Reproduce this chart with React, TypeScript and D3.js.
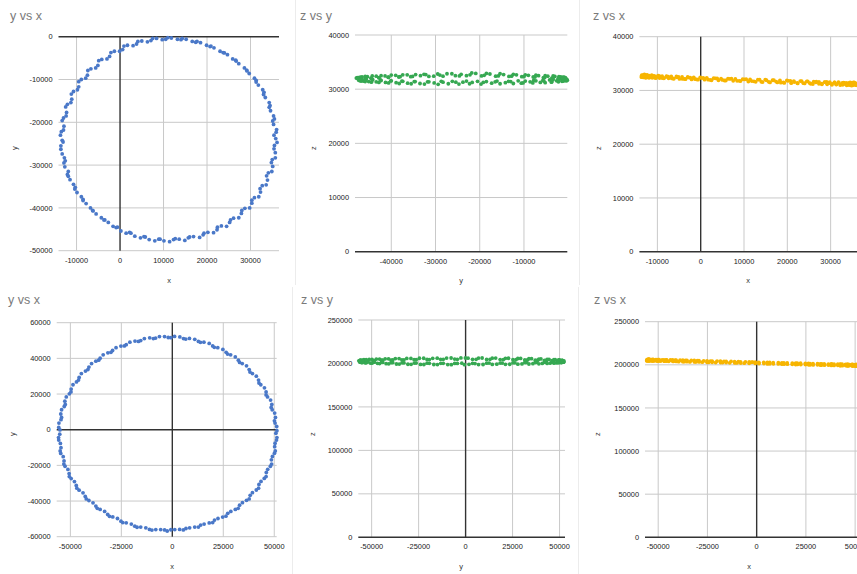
import React from "react";
import * as d3 from "d3";

// ---- first capture (top row): x, y, z per sample ----
const row1X = [
  35800, 35900, 35300, 35500, 34600, 34500, 33400, 33100, 31800, 31300, 29700, 29100, 27300, 26600, 24700, 23700, 21600, 20700, 18500, 17400, 15200, 14000, 11800,
  10500, 8400, 7100, 5000, 3800, 1700, 600, -1300, -2400, -4200, -5100, -6700, -7500, -8900, -9500, -10700, -11100, -12100, -12300, -13000, -12900, -13500,
  -13300, -13600, -13300, -12600, -12700, -12100, -11500, -10300, -9900, -8500, -7800, -6300, -5500, -3700, -2700, -900, 200, 2200, 3400, 5500, 6700, 8900, 10100,
  12300, 13600, 15700, 16900, 19100, 20200, 22300, 23300, 25200, 26100, 27900, 28700, 30300, 30900, 32300, 32700, 33900, 34100, 35100, 35000, 35700, 35500,
  35400, 36000, 35100, 35300, 34300, 34300, 33000, 32800, 31300, 30900, 29200, 28600, 26700, 25900, 24000, 23000, 20900, 19900, 17700, 16600, 14300, 13200,
  11000, 9700, 7500, 6300, 4100, 3000, 900, -100, -2100, -3000, -4900, -5600, -7400, -7900, -9500, -9800, -11200, -11300, -12500, -12400, -13300, -13000, -13700,
  -13100, -13600, -12800, -12900, -11900, -11900, -10700, -10400, -8900, -8500, -6800, -6200, -4300, -3500, -1600, -600, 1400, 2500, 4700, 5800, 8000, 9200,
  11400, 12700, 14900, 16000, 18300, 19300, 21500, 22400, 24500, 25400, 27300, 28000, 29800, 30300, 31900, 32200, 33600, 33700, 34900, 34800, 35700, 35400, 36100,
];
const row1Y = [
  -23800, -22300, -20500, -19200, -17300, -16100, -14200, -13000, -11300, -10200, -8600, -7800, -6300, -5500, -4200, -3700, -2600, -2300, -1400, -1300, -600, -700, -300,
  -600, -400, -900, -1000, -1700, -2000, -3000, -3400, -4600, -5300, -6700, -7500, -9000, -10000, -11700, -12800, -14600, -15800, -17700, -19000, -20900, -22200,
  -24200, -25500, -27400, -29000, -30400, -32200, -33400, -35200, -36400, -38000, -39000, -40600, -41400, -42800, -43400, -44600, -45400, -45700, -46600, -46700, -47400, -47300, -47700,
  -47400, -47300, -47000, -46700, -46300, -45700, -45100, -44200, -43400, -42400, -41300, -40100, -38900, -37600, -36300, -34800, -33500, -31800, -30300, -28700, -27100, -25400,
  -23000, -21700, -19700, -18500, -16500, -15400, -13500, -12400, -10600, -9700, -8000, -7300, -5700, -5200, -3800, -3400, -2200, -2000, -1100, -1100, -400, -600,
  -200, -700, -400, -1200, -1100, -2100, -2200, -3400, -3700, -5200, -5600, -7300, -7900, -9700, -10500, -12400, -13400, -15400, -16400, -18500, -19600, -21800, -23000,
  -24600, -26300, -28300, -29500, -31500, -32600, -34500, -35600, -37400, -38300, -40000, -40700, -42300, -42800, -44300, -44500, -45900, -45900, -47000, -46800, -47700, -47300,
  -47900, -47200, -47600, -46800, -46900, -45900, -45800, -44500, -44300, -42800, -42300, -40600, -40000, -38200, -37400, -35500, -34600, -32500, -31500, -29400, -28300, -26200, -24700,
];
const row1Z = [
  31300, 31000, 31450, 31250, 31100, 31500, 31200, 31400, 31550, 31150, 31350, 31600, 31250, 31500, 31700, 31350, 31550, 31800, 31450, 31650, 31900, 31600, 31750,
  32100, 31800, 32200, 31950, 32250, 32000, 32350, 32100, 32400, 32150, 32500, 32250, 32550, 32300, 32650, 32400, 32700, 32450, 32800, 32550, 32900, 32650,
  32750, 32500, 32850, 32600, 32400, 32700, 32500, 32350, 32650, 32300, 32550, 32200, 32450, 32150, 32400, 32050, 32300, 31950, 32250, 31850, 32150, 31800, 32050,
  31700, 32000, 31600, 31900, 31500, 31800, 31400, 31750, 31350, 31650, 31250, 31550, 31200, 31500, 31100, 31400, 31050, 31350, 31150, 31450, 31000, 31300,
  31500, 31250, 30950, 31400, 31350, 31000, 31450, 31050, 31100, 31500, 31150, 31550, 31650, 31200, 31300, 31750, 31350, 31850, 31500, 31900, 31550, 32000,
  31650, 32100, 31800, 32200, 31900, 32300, 32000, 32450, 32050, 32500, 32150, 32600, 32250, 32650, 32300, 32750, 32350, 32850, 32400, 32900, 32450, 33000, 32500,
  32450, 32850, 32400, 32800, 32350, 32750, 32700, 32300, 32650, 32250, 32600, 32200, 32500, 32100, 32450, 32000, 32350, 31900, 32200, 31850, 32150, 31750,
  32050, 31600, 32000, 31500, 31850, 31400, 31750, 31300, 31700, 31250, 31600, 31150, 31550, 31050, 31450, 31000, 31400, 30950, 31350, 30900, 31300, 31450, 30950,
];

// ---- second capture (bottom row) ----
const row2X = [
  50800, 51200, 50100, 50200, 48500, 48200, 46000, 45200, 42500, 41200, 38100, 36400, 33000, 30900, 27100, 24800, 20600, 18100, 13800, 11000, 6600, 3700, -700,
  -3800, -8200, -11100, -15500, -18300, -22600, -25200, -29300, -31600, -35400, -37500, -40900, -42600, -45700, -47000, -49600, -50500, -52700, -53000, -54700, -54600, -55700,
  -55200, -55700, -54600, -54700, -53100, -52600, -50600, -49600, -47100, -45700, -42700, -40900, -37500, -35400, -31700, -29200, -25200, -22600, -18400, -15500, -11200, -8100, -3800,
  -700, 3600, 6700, 11000, 13900, 18100, 20700, 24700, 27200, 30900, 33000, 36400, 38200, 41200, 42500, 45100, 46100, 48100, 48600, 50100, 50200, 51100,
  51300, 50400, 50600, 49000, 48800, 46700, 46000, 43400, 42300, 39300, 37700, 34300, 32400, 28600, 26400, 22300, 19800, 15500, 12800, 8400, 5500, 1100,
  -2000, -6300, -9300, -13700, -16600, -20800, -23500, -27600, -30100, -33900, -36100, -39600, -41400, -44600, -46000, -48700, -49700, -52000, -52500, -54300, -54300, -55600, -55100,
  -55800, -54900, -55000, -53500, -53200, -51200, -50500, -48000, -46800, -43800, -42200, -38900, -36800, -33200, -30800, -26900, -24300, -20100, -17300, -13000, -10000, -5700,
  -2500, 1200, 5400, 8500, 12800, 15600, 19800, 22400, 26300, 28700, 32300, 34400, 37700, 39300, 42300, 43500, 46000, 46800, 48700, 49100, 50500, 50400, 51300,
];
const row2Y = [
  -2000, 1800, 5000, 9300, 12500, 16600, 19500, 23500, 26200, 30000, 32300, 35800, 37700, 40800, 42400, 45000, 46200, 48400, 49000, 50700, 50800, 52000, 51600,
  52200, 51400, 51500, 50000, 49700, 47700, 46900, 44400, 43100, 40100, 38400, 35100, 32900, 29300, 26800, 22800, 20100, 16000, 13000, 8800, 5600, 1300,
  -2500, -5800, -10100, -13300, -17500, -20500, -24600, -27400, -31300, -33900, -37400, -39700, -42800, -44700, -47500, -48900, -51300, -52200, -54100, -54600, -55900, -56000, -56200,
  -56100, -55900, -55400, -54600, -53500, -52300, -50700, -49000, -46900, -44700, -42300, -39600, -36800, -33800, -30700, -27300, -24000, -20500, -16900, -13200, -9500, -5800,
  -600, 3700, 6900, 11200, 14200, 18400, 21200, 25200, 27800, 31500, 33700, 37100, 39000, 42000, 43400, 46000, 47000, 49100, 49500, 51200, 51100, 52300,
  51700, 52200, 51100, 51100, 49500, 49100, 47000, 46000, 43400, 42000, 39000, 37100, 33700, 31500, 27800, 25200, 21200, 18400, 14200, 11200, 6900, 3700, -100,
  -4400, -7700, -11900, -15100, -19300, -22300, -26300, -29100, -32800, -35400, -38800, -41000, -44100, -45800, -48600, -49800, -52100, -52900, -54700, -55000, -56300, -56000,
  -56800, -56000, -56200, -55000, -54600, -52900, -52100, -49800, -48500, -45800, -44100, -40900, -38800, -35300, -32800, -29000, -26300, -22200, -19300, -15000, -11900, -7600, -4400,
];
const row2Z = [
  200300, 199000, 199900, 198800, 200400, 199200, 200500, 199100, 200700, 199500, 201000, 199800, 201200, 200000, 201500, 200300, 201900, 200600, 202300, 201000, 202700, 201500, 203100,
  201800, 203500, 202200, 204000, 202600, 204400, 203000, 204800, 203400, 205200, 203700, 205500, 204000, 205800, 204300, 206000, 204500, 206200, 204700, 206300, 204800, 206100,
  206400, 205000, 206200, 204700, 205900, 204600, 206000, 204400, 205800, 204200, 205600, 203900, 205300, 203700, 205000, 203300, 204600, 203000, 204300, 202600, 203800, 202100, 203400,
  201600, 202900, 201100, 202500, 200800, 202000, 200500, 201700, 200100, 201300, 199700, 200900, 199400, 200700, 199100, 200500, 198900, 200300, 198800, 200100, 198700, 200000,
  198600, 200200, 198700, 200300, 198900, 200500, 199000, 200700, 199200, 200900, 199400, 201100, 199600, 201400, 200000, 201800, 200300, 202100, 200700, 202500, 201000, 202900,
  203200, 201900, 203600, 202300, 204000, 202700, 204400, 203100, 204800, 203400, 205100, 203700, 205400, 204000, 205700, 204300, 205900, 204500, 206100, 204600, 206200, 204700, 206300,
  204800, 206300, 204700, 206100, 204500, 206000, 204300, 205800, 204200, 205600, 204000, 205300, 203700, 205000, 203300, 204600, 203000, 204300, 202600, 203900, 202200, 203500,
  203000, 201500, 202700, 201100, 202300, 200700, 201900, 200300, 201600, 199900, 201200, 199600, 200900, 199300, 200600, 199000, 200400, 198800, 200200, 198700, 200100, 198600, 200000,
];

// tick values
const r1XTicks = [-10000, 0, 10000, 20000, 30000];
const r1YTicks = [0, -10000, -20000, -30000, -40000, -50000];
const r1YasXTicks = [-40000, -30000, -20000, -10000];
const r1ZTicks = [0, 10000, 20000, 30000, 40000];
const r2XTicks = [-50000, -25000, 0, 25000, 50000];
const r2YTicks = [60000, 40000, 20000, 0, -20000, -40000, -60000];
const r2ZTicks = [0, 50000, 100000, 150000, 200000, 250000];

const BLUE = "#4a78c8";
const GREEN = "#36a852";
const YELLOW = "#f7b500";
const FONT = "Arial, 'Liberation Sans', sans-serif";

type PanelSpec = {
  title: string;
  titleX: number;
  titleY: number;
  xs: number[];
  ys: number[];
  color: string;
  xDomain: [number, number];
  yDomain: [number, number];
  xTicks: number[];
  yTicks: number[];
  left: number;
  right: number;
  top: number;
  bottom: number;
  xLabel: string;
  xLabelX: number;
  xLabelY: number;
  yLabel: string;
  yLabelX: number;
  yLabelY: number;
};

function Panel({ p }: { p: PanelSpec }) {
  const x = d3.scaleLinear().domain(p.xDomain).range([p.left, p.right]);
  const y = d3.scaleLinear().domain(p.yDomain).range([p.bottom, p.top]);
  const pts = p.xs.map((v, i) => [v, p.ys[i]]);
  const hasX0 = p.xTicks.includes(0);
  const hasY0 = p.yTicks.includes(0);

  return (
    <g fontFamily={FONT}>
      <text x={p.titleX} y={p.titleY} fontSize={12.5} fill="#7a7a7a">{p.title}</text>

      {/* grid */}
      {p.yTicks.filter(t => t !== 0).map(t => (
        <line key={"gy" + t} x1={p.left} x2={p.right} y1={y(t)} y2={y(t)} stroke="#c9c9c9" strokeWidth={1} />
      ))}
      {p.xTicks.filter(t => t !== 0).map(t => (
        <line key={"gx" + t} x1={x(t)} x2={x(t)} y1={p.top} y2={p.bottom} stroke="#c9c9c9" strokeWidth={1} />
      ))}
      {/* baselines */}
      {hasY0 && <line x1={p.left} x2={p.right} y1={y(0)} y2={y(0)} stroke="#333" strokeWidth={1.4} />}
      {hasX0 && <line x1={x(0)} x2={x(0)} y1={p.top} y2={p.bottom} stroke="#333" strokeWidth={1.4} />}

      {/* tick labels */}
      {p.yTicks.map(t => (
        <text key={"ly" + t} x={p.left - 6} y={y(t) + 2.6} fontSize={7.4} fill="#222" textAnchor="end">{t}</text>
      ))}
      {p.xTicks.map(t => (
        <text key={"lx" + t} x={x(t)} y={p.bottom + 12} fontSize={7.4} fill="#222" textAnchor="middle">{t}</text>
      ))}

      {/* axis titles */}
      <text x={p.xLabelX} y={p.xLabelY} fontSize={7.5} fill="#333" textAnchor="middle">{p.xLabel}</text>
      <text transform={`translate(${p.yLabelX},${p.yLabelY}) rotate(-90)`} fontSize={7.5} fill="#333" textAnchor="middle">{p.yLabel}</text>

      {/* points */}
      {pts.map((d, i) => (
        <circle key={i} cx={x(d[0])} cy={y(d[1])} r={1.9} fill={p.color} />
      ))}
    </g>
  );
}

const panels: PanelSpec[] = [
  {
    title: "y vs x", titleX: 10, titleY: 20, xs: row1X, ys: row1Y, color: BLUE,
    xDomain: [-14150, 36550], yDomain: [-50000, 0], xTicks: r1XTicks, yTicks: r1YTicks,
    left: 58.5, right: 279, top: 36.7, bottom: 250.7,
    xLabel: "x", xLabelX: 169, xLabelY: 283, yLabel: "y", yLabelX: 17, yLabelY: 148,
  },
  {
    title: "z vs y", titleX: 300, titleY: 20, xs: row1Y, ys: row1Z, color: GREEN,
    xDomain: [-48200, -200], yDomain: [0, 40000], xTicks: r1YasXTicks, yTicks: r1ZTicks,
    left: 355, right: 567.3, top: 35, bottom: 251.7,
    xLabel: "y", xLabelX: 461, xLabelY: 283, yLabel: "z", yLabelX: 316, yLabelY: 148,
  },
  {
    title: "z vs x", titleX: 593, titleY: 20, xs: row1X, ys: row1Z, color: YELLOW,
    xDomain: [-14150, 36550], yDomain: [0, 40000], xTicks: r1XTicks, yTicks: r1ZTicks,
    left: 639.4, right: 859, top: 36.7, bottom: 251.7,
    xLabel: "x", xLabelX: 748, xLabelY: 283, yLabel: "z", yLabelX: 601, yLabelY: 148,
  },
  {
    title: "y vs x", titleX: 8, titleY: 304, xs: row2X, ys: row2Y, color: BLUE,
    xDomain: [-56700, 51200], yDomain: [-60000, 60000], xTicks: r2XTicks, yTicks: r2YTicks,
    left: 56.7, right: 276.7, top: 322.7, bottom: 536.7,
    xLabel: "x", xLabelX: 172, xLabelY: 569, yLabel: "y", yLabelX: 15, yLabelY: 434,
  },
  {
    title: "z vs y", titleX: 301, titleY: 304, xs: row2Y, ys: row2Z, color: GREEN,
    xDomain: [-57100, 52900], yDomain: [0, 250000], xTicks: r2XTicks, yTicks: r2ZTicks,
    left: 358.3, right: 565, top: 320, bottom: 537.3,
    xLabel: "y", xLabelX: 461, xLabelY: 569, yLabel: "z", yLabelX: 315, yLabelY: 434,
  },
  {
    title: "z vs x", titleX: 594, titleY: 304, xs: row2X, ys: row2Z, color: YELLOW,
    xDomain: [-56700, 51200], yDomain: [0, 250000], xTicks: r2XTicks, yTicks: r2ZTicks,
    left: 645, right: 857.5, top: 321.7, bottom: 537.3,
    xLabel: "x", xLabelX: 749, xLabelY: 569, yLabel: "z", yLabelX: 600, yLabelY: 434,
  },
];

export default function App() {
  return (
    <svg
      width={857}
      height={574}
      style={{ position: "absolute", left: 0, top: 0, background: "#fff" }}
    >
      <rect x={0} y={0} width={857} height={574} fill="#fff" />
      {/* faint panel borders */}
      <line x1={295.5} x2={295.5} y1={0} y2={285} stroke="#ececec" />
      <line x1={292.5} x2={292.5} y1={287} y2={574} stroke="#ececec" />
      <line x1={579.5} x2={579.5} y1={0} y2={285} stroke="#ececec" />
      <line x1={578.5} x2={578.5} y1={287} y2={574} stroke="#ececec" />
      {panels.map((p, i) => (
        <Panel key={i} p={p} />
      ))}
    </svg>
  );
}
